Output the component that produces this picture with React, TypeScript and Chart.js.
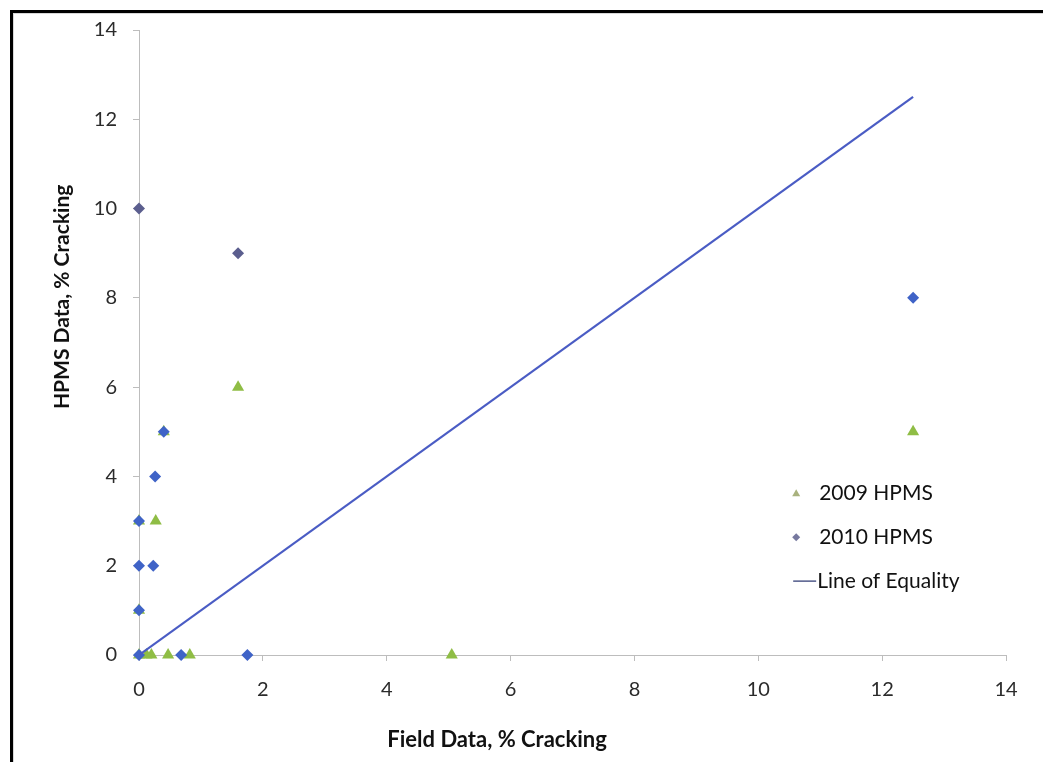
import React, { useEffect, useRef } from "react";
import { Chart, registerables } from "chart.js";

Chart.register(...registerables);

// 2009 HPMS vs field measurements (% cracking)
const hpms2009X = [0, 0, 0, 0.12, 0.2, 0.27, 0.4, 0.47, 0.82, 1.6, 5.05, 12.5];
const hpms2009Y = [0, 1, 3, 0, 0, 3, 5, 0, 0, 6, 0, 5];

// 2010 HPMS vs field measurements (% cracking)
const hpms2010X = [0, 1.6, 12.5, 0.4, 0.26, 0, 0.23, 0, 0, 0, 0.68, 1.75];
const hpms2010Y = [10, 9, 8, 5, 4, 3, 2, 2, 1, 0, 0, 0];

// Line of equality endpoints
const equalityX = [0, 12.5];
const equalityY = [0, 12.5];

const axisTicks = [0, 2, 4, 6, 8, 10, 12, 14];

const seriesNames = ["2009 HPMS", "2010 HPMS", "Line of Equality"];
const xTitle = "Field Data, % Cracking";
const yTitle = "HPMS Data, % Cracking";

const toPoints = (xs: number[], ys: number[]) => xs.map((x, i) => ({ x, y: ys[i] }));

const FONT = "Lato, 'Open Sans', sans-serif";
const GREEN = "#8fbd45";
const BLUE = "#3f63c7";
const PURPLE = "#5b5e8e";
const LINE = "#4a5cc4";

const framePlugin = {
  id: "frame",
  beforeDraw(chart: any) {
    const { ctx, width, height } = chart;
    ctx.save();
    ctx.fillStyle = "#ffffff";
    ctx.fillRect(0, 0, width, height);
    ctx.fillStyle = "#000000";
    ctx.fillRect(10, 10, width - 10, 3);
    ctx.fillRect(10, 10, 3, height - 10);
    ctx.fillStyle = "#d8d8d8";
    ctx.fillRect(13, 13, width - 13, 1);
    ctx.fillRect(13, 13, 1, height - 13);
    ctx.restore();
  },
};

// Axis titles, placed like the spreadsheet's own (not centred on the plot area)
const axisTitlePlugin = {
  id: "axisTitles",
  afterDraw(chart: any) {
    const { ctx, chartArea } = chart;
    const w = chartArea.right - chartArea.left;
    const h = chartArea.bottom - chartArea.top;
    ctx.save();
    ctx.fillStyle = "#111111";
    ctx.textAlign = "center";
    ctx.textBaseline = "middle";
    ctx.font = `bold 22px ${FONT}`;
    ctx.fillText(xTitle, chartArea.left + w * 0.413, chartArea.bottom + 85);
    ctx.translate(62, chartArea.top + h * 0.427);
    ctx.rotate(-Math.PI / 2);
    ctx.font = `bold 21px ${FONT}`;
    ctx.fillText(yTitle, 0, 0);
    ctx.restore();
  },
};

const legendPlugin = {
  id: "sideLegend",
  afterDraw(chart: any) {
    const { ctx, chartArea } = chart;
    const x0 = chartArea.left + (chartArea.right - chartArea.left) * 0.758;
    const y0 = chartArea.top + (chartArea.bottom - chartArea.top) * 0.741;
    const gap = 44;
    ctx.save();
    ctx.font = `21px ${FONT}`;
    ctx.textBaseline = "middle";
    ctx.textAlign = "left";
    // triangle marker
    ctx.fillStyle = "#a9b27e";
    ctx.beginPath();
    ctx.moveTo(x0, y0 - 4);
    ctx.lineTo(x0 + 4, y0 + 3);
    ctx.lineTo(x0 - 4, y0 + 3);
    ctx.closePath();
    ctx.fill();
    // diamond marker
    ctx.fillStyle = "#77799f";
    ctx.beginPath();
    ctx.moveTo(x0, y0 + gap - 4);
    ctx.lineTo(x0 + 4, y0 + gap);
    ctx.lineTo(x0, y0 + gap + 4);
    ctx.lineTo(x0 - 4, y0 + gap);
    ctx.closePath();
    ctx.fill();
    // line marker
    ctx.strokeStyle = "#505a8a";
    ctx.lineWidth = 1.5;
    ctx.beginPath();
    ctx.moveTo(x0 - 3, y0 + gap * 2);
    ctx.lineTo(x0 + 20, y0 + gap * 2);
    ctx.stroke();
    ctx.fillStyle = "#111111";
    ctx.fillText(seriesNames[0], x0 + 23, y0);
    ctx.fillText(seriesNames[1], x0 + 23, y0 + gap);
    ctx.fillText(seriesNames[2], x0 + 21, y0 + gap * 2);
    ctx.restore();
  },
};

export default function App() {
  const canvasRef = useRef<HTMLCanvasElement | null>(null);

  useEffect(() => {
    document.body.style.margin = "0";
    const canvas = canvasRef.current;
    if (!canvas) return;
    const tickFont = { family: FONT, size: 20 };
    const chart = new Chart(canvas, {
      type: "scatter",
      data: {
        datasets: [
          {
            label: seriesNames[0],
            data: toPoints(hpms2009X, hpms2009Y),
            pointStyle: "triangle",
            pointRadius: 7,
            backgroundColor: GREEN,
            borderColor: GREEN,
            borderWidth: 0,
            clip: false,
            order: 3,
          },
          {
            label: seriesNames[1],
            data: toPoints(hpms2010X, hpms2010Y),
            pointStyle: "rectRot",
            pointRadius: 6,
            backgroundColor: (c: any) => (c.raw && c.raw.y >= 9 ? PURPLE : BLUE),
            borderColor: (c: any) => (c.raw && c.raw.y >= 9 ? PURPLE : BLUE),
            borderWidth: 0,
            clip: false,
            order: 2,
          },
          {
            type: "line",
            label: seriesNames[2],
            data: toPoints(equalityX, equalityY),
            borderColor: LINE,
            borderWidth: 2.2,
            pointRadius: 0,
            fill: false,
            order: 1,
          } as any,
        ],
      },
      options: {
        responsive: false,
        animation: false,
        layout: { padding: { left: 0, top: 30, right: 37, bottom: 0 } },
        plugins: {
          legend: { display: false },
          tooltip: { enabled: false },
        },
        scales: {
          x: {
            type: "linear",
            min: 0,
            max: 14,
            afterBuildTicks: (s: any) => {
              s.ticks = axisTicks.map((v) => ({ value: v }));
            },
            afterFit: (s: any) => {
              s.height = 107;
            },
            grid: { drawOnChartArea: false, drawTicks: true, tickLength: 6, color: "#bdbdbd" },
            border: { color: "#bdbdbd", width: 1 },
            ticks: { font: tickFont, color: "#2b2b2b", padding: 17, maxRotation: 0 },
          },
          y: {
            type: "linear",
            min: 0,
            max: 14,
            afterBuildTicks: (s: any) => {
              s.ticks = axisTicks.map((v) => ({ value: v }));
            },
            afterFit: (s: any) => {
              s.width = 139;
            },
            grid: { drawOnChartArea: false, drawTicks: true, tickLength: 6, color: "#bdbdbd" },
            border: { color: "#bdbdbd", width: 1 },
            ticks: { font: tickFont, color: "#2b2b2b", padding: 16 },
          },
        },
      },
      plugins: [framePlugin, axisTitlePlugin, legendPlugin],
    });
    return () => chart.destroy();
  }, []);

  return (
    <div style={{ width: 1043, height: 762, overflow: "hidden" }}>
      <canvas ref={canvasRef} width={1043} height={762} style={{ display: "block" }} />
    </div>
  );
}
